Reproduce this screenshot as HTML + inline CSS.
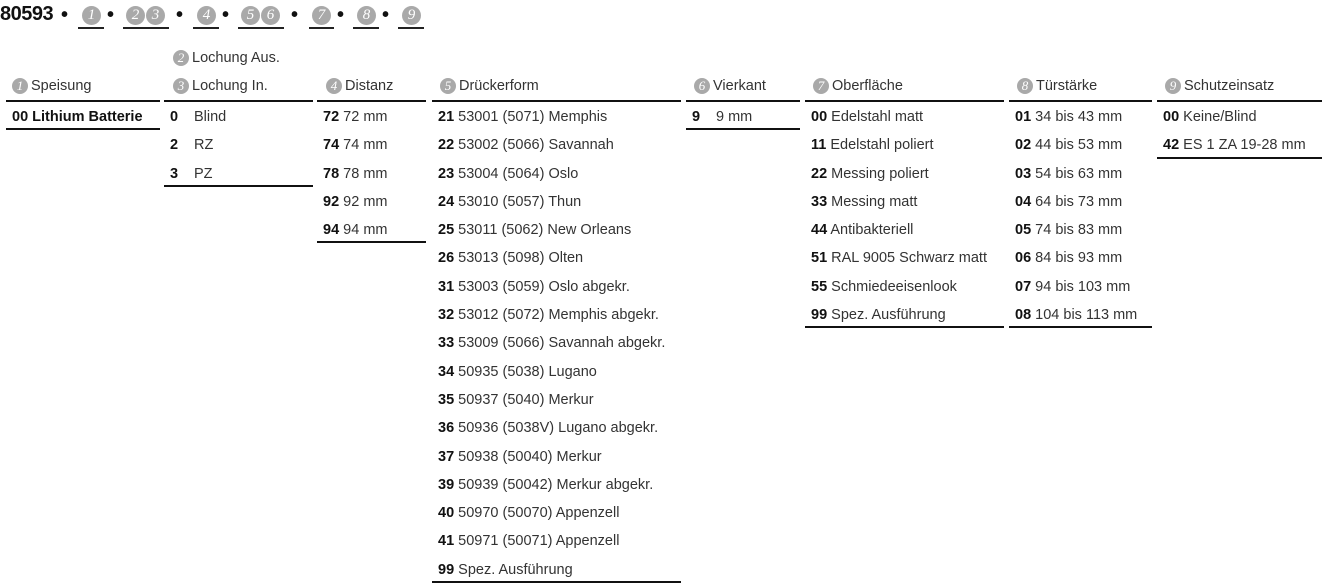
<!DOCTYPE html>
<html><head><meta charset="utf-8">
<style>
body{margin:0;width:1327px;height:585px;background:#fff;position:relative;overflow:hidden;font-family:"Liberation Sans",sans-serif;color:#333}
.title{position:absolute;left:0px;top:3px;font-size:20px;font-weight:bold;color:#111;white-space:nowrap;letter-spacing:-0.5px}
.slot{position:absolute;top:3px;height:24px;border-bottom:2px solid #222}
.c{display:inline-block;width:16px;height:16px;border-radius:50%;background:#a9a9a9;color:#fff;font-family:"Liberation Serif",serif;font-style:italic;font-size:13px;line-height:16px;text-align:center;vertical-align:middle;margin-right:3px}
.slot .c{width:19px;height:19px;line-height:19px;font-size:15px;position:absolute;top:3px}
.dot{position:absolute;top:4px;font-size:20px;font-weight:bold;color:#111}
.col{position:absolute;top:100px;border-top:2px solid #111}
.row{height:28.3px;line-height:31px;font-size:14.5px;padding-left:6px;white-space:nowrap}
.row:last-child{border-bottom:2px solid #111;height:26.3px}
b{color:#111;font-weight:700}
.w{display:inline-block;width:24px}
.h{position:absolute;font-size:14.5px;white-space:nowrap;top:76px;line-height:20px}
</style></head><body>
<div class="title">80593</div>
<span class="dot" style="left:61px">•</span>
<div class="slot" style="left:78px;width:26px"><span class="c" style="left:4px">1</span></div>
<span class="dot" style="left:107px">•</span>
<div class="slot" style="left:123px;width:46px"><span class="c" style="left:3px">2</span><span class="c" style="left:23px">3</span></div>
<span class="dot" style="left:176px">•</span>
<div class="slot" style="left:193px;width:26px"><span class="c" style="left:4px">4</span></div>
<span class="dot" style="left:222px">•</span>
<div class="slot" style="left:238px;width:46px"><span class="c" style="left:3px">5</span><span class="c" style="left:23px">6</span></div>
<span class="dot" style="left:291px">•</span>
<div class="slot" style="left:309px;width:25px"><span class="c" style="left:3px">7</span></div>
<span class="dot" style="left:337px">•</span>
<div class="slot" style="left:353px;width:26px"><span class="c" style="left:4px">8</span></div>
<span class="dot" style="left:382px">•</span>
<div class="slot" style="left:398px;width:26px"><span class="c" style="left:4px">9</span></div>

<div class="h" style="left:12px"><span class="c">1</span>Speisung</div>
<div class="h" style="left:173px;top:48px"><span class="c">2</span>Lochung Aus.</div>
<div class="h" style="left:173px"><span class="c">3</span>Lochung In.</div>
<div class="h" style="left:326px"><span class="c">4</span>Distanz</div>
<div class="h" style="left:440px"><span class="c">5</span>Drückerform</div>
<div class="h" style="left:694px"><span class="c">6</span>Vierkant</div>
<div class="h" style="left:813px"><span class="c">7</span>Oberfläche</div>
<div class="h" style="left:1017px"><span class="c">8</span>Türstärke</div>
<div class="h" style="left:1165px"><span class="c">9</span>Schutzeinsatz</div>

<div class="col" style="left:6px;width:154px">
<div class="row"><b>00 Lithium Batterie</b></div>
</div>
<div class="col" style="left:164px;width:149px">
<div class="row"><b class="w">0</b>Blind</div>
<div class="row"><b class="w">2</b>RZ</div>
<div class="row"><b class="w">3</b>PZ</div>
</div>
<div class="col" style="left:317px;width:109px">
<div class="row"><b>72</b> 72 mm</div>
<div class="row"><b>74</b> 74 mm</div>
<div class="row"><b>78</b> 78 mm</div>
<div class="row"><b>92</b> 92 mm</div>
<div class="row"><b>94</b> 94 mm</div>
</div>
<div class="col" style="left:432px;width:249px">
<div class="row"><b>21</b> 53001 (5071) Memphis</div>
<div class="row"><b>22</b> 53002 (5066) Savannah</div>
<div class="row"><b>23</b> 53004 (5064) Oslo</div>
<div class="row"><b>24</b> 53010 (5057) Thun</div>
<div class="row"><b>25</b> 53011 (5062) New Orleans</div>
<div class="row"><b>26</b> 53013 (5098) Olten</div>
<div class="row"><b>31</b> 53003 (5059) Oslo abgekr.</div>
<div class="row"><b>32</b> 53012 (5072) Memphis abgekr.</div>
<div class="row"><b>33</b> 53009 (5066) Savannah abgekr.</div>
<div class="row"><b>34</b> 50935 (5038) Lugano</div>
<div class="row"><b>35</b> 50937 (5040) Merkur</div>
<div class="row"><b>36</b> 50936 (5038V) Lugano abgekr.</div>
<div class="row"><b>37</b> 50938 (50040) Merkur</div>
<div class="row"><b>39</b> 50939 (50042) Merkur abgekr.</div>
<div class="row"><b>40</b> 50970 (50070) Appenzell</div>
<div class="row"><b>41</b> 50971 (50071) Appenzell</div>
<div class="row"><b>99</b> Spez. Ausführung</div>
</div>
<div class="col" style="left:686px;width:114px">
<div class="row"><b class="w">9</b>9 mm</div>
</div>
<div class="col" style="left:805px;width:199px">
<div class="row"><b>00</b> Edelstahl matt</div>
<div class="row"><b>11</b> Edelstahl poliert</div>
<div class="row"><b>22</b> Messing poliert</div>
<div class="row"><b>33</b> Messing matt</div>
<div class="row"><b>44</b> Antibakteriell</div>
<div class="row"><b>51</b> RAL 9005 Schwarz matt</div>
<div class="row"><b>55</b> Schmiedeeisenlook</div>
<div class="row"><b>99</b> Spez. Ausführung</div>
</div>
<div class="col" style="left:1009px;width:143px">
<div class="row"><b>01</b> 34 bis 43 mm</div>
<div class="row"><b>02</b> 44 bis 53 mm</div>
<div class="row"><b>03</b> 54 bis 63 mm</div>
<div class="row"><b>04</b> 64 bis 73 mm</div>
<div class="row"><b>05</b> 74 bis 83 mm</div>
<div class="row"><b>06</b> 84 bis 93 mm</div>
<div class="row"><b>07</b> 94 bis 103 mm</div>
<div class="row"><b>08</b> 104 bis 113 mm</div>
</div>
<div class="col" style="left:1157px;width:165px">
<div class="row"><b>00</b> Keine/Blind</div>
<div class="row"><b>42</b> ES 1 ZA 19-28 mm</div>
</div>
</body></html>
